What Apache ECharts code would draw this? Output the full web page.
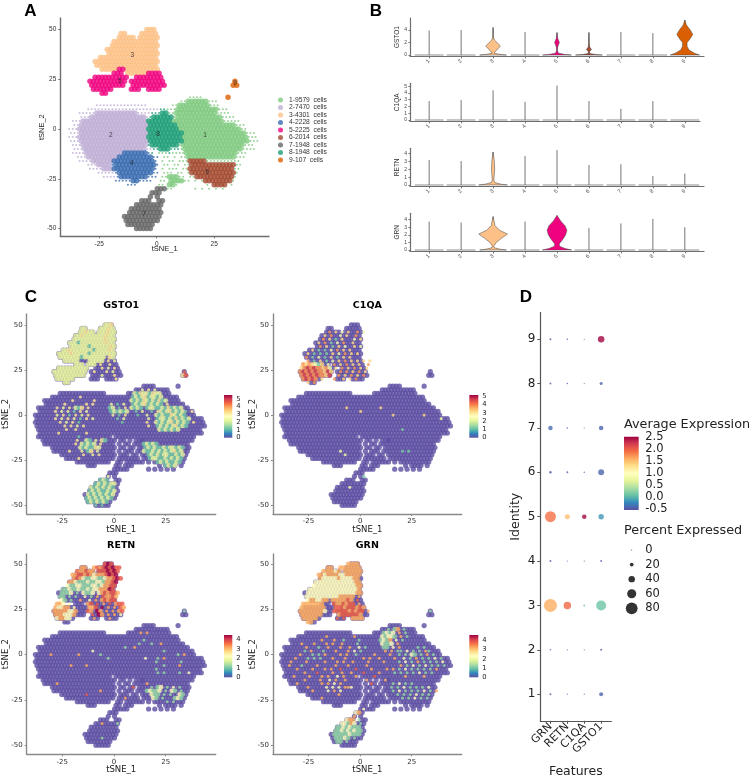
<!DOCTYPE html>
<html>
<head>
<meta charset="utf-8">
<style>html,body{margin:0;background:#fff}#chart{width:753px;height:778px}</style>
<script src="https://cdn.jsdelivr.net/npm/echarts@6/dist/echarts.min.js"></script>
</head>
<body>
<div id="chart"></div>
<script>
// clusterRows: digit = dense cluster cell, letter a-i = sparse halo of cluster 1-9
const clusterRows = [
  "50|22:333", "48|15:33 21:33333", "46|14:33333 20:333333", "44|13:3333333333333",
  "42|12:33333333333333", "40|11:333333333333333", "38|11:333333333333333",
  "36|9:33333333333333333", "34|7:3333333333333333333", "32|8:333333333333333333",
  "30|9:33333 14:55 16:3333333333", "28|13:555 17:333333 23:5555",
  "26|7:5555555555 19:55555555", "24|6:55555555555 18:5555555555 48:9",
  "22|6:5555555555 18:5555555555 47:99", "20|7:555555 18:555 23:5555", "18|9:55",
  "16|35:aaaa 46:9", "14|32:aa111111aaa", "12|8:bbbbbbbbbbbbbbb 30:aa111111111aaa",
  "10|5:bbbbbbbbbbbbbbbbbbbbb 26:hh 28:aaa111111111111aaa",
  "8|3:bbbbb 8:222222222222 20:bbbb 24:hhh88aa 31:111111111111 43:aaaa",
  "6|3:bbb 6:2222222222222222 22:bh 24:888888 30:a 31:1111111111111 44:aaaa",
  "4|1:bbb 4:2222222222222222222 23:8888888 30:111111111111111 45:aaaaa",
  "2|1:bb 3:22222222222222222222 23:88888888 31:11111111111111111 48:aaa",
  "0|0:bbb 3:22222222222222222222 23:888888888 32:111111111111111111 50:aa",
  "-2|0:bbb 3:22222222222222222222 23:8888888888 33:111111111111111111 51:aaa",
  "-4|0:bbb 3:22222222222222222222 23:8888888888 33:1111111111111111111 52:aaa",
  "-6|0:bbb 3:22222222222222222222 23:8888888888 33:1111111111111111111 52:aaa",
  "-8|1:bbb 4:2222222222222222222 23:h 24:88888888 32:a 33:111111111111111111 51:aaa",
  "-10|1:bbb 4:222222222222222222 22:bbhh888hhha 33:11111111111111111 50:aaaa",
  "-12|1:bbbb 5:22222222222 16:4444444 23:dh 26:aaa 29:haaa 33:a 34:111111111111111 49:aaa",
  "-14|2:bbb 5:222222222 14:4444444444 24:dd 27:aa.a.aaa 34:11111111111111 48:aaa",
  "-16|3:bbbb 7:222222 13:444444444444 25:d 27:a.aa.aaa 35:66666 40:aaaaaaaaaa",
  "-18|5:bbb 8:2222 12:d 13:444444444444 25:d 27:aa.aa.aa 35:6666666666666 48:aa",
  "-20|6:bbbb 10:222 13:444444444444 25:d 27:a.aaa.aa 35:6666666666666 48:aa",
  "-22|8:bbbbb 13:d 14:4444444444 24:dd 27:aaa.aa.a 35:6666666666666 48:a",
  "-24|10:bbbb 14:d 15:44444444 23:ddd 27:aa111aa.aa 37:66666666666 48:a",
  "-26|13:ddddd 18:44 20:dddd 26:aa.1111aa 36:a.a 39:66666666 47:a",
  "-28|17:ddd 26:aa.11a 40:a.6666.a", "-30|25:777aa 36:a.a.a.a.a", "-32|24:777", "-34|23:7.7",
  "-36|21:777 26:77", "-38|19:77777777", "-40|18:777777777", "-42|17:7777777777",
  "-44|16:77777777777", "-46|16:7777777777", "-48|17:77777777", "-50|19:77777"
];
// expression rasters on the same grid: digit = level band of the gene, cells not listed stay purple
const gsto1Rows = [
  "50|22:223", "48|15:22 21:22232", "46|14:22322 20:222322", "44|13:2232222222322",
  "42|12:22222222223222", "40|11:222122222222322", "38|11:222222122222232",
  "36|9:22322222221222232", "34|7:2222322222122222222", "32|8:222222212222222.32",
  "30|9:22222 17:22222.3.2", "28|13:222 17:222.3. 23:.3", "26|7:2222222222 19:..3.2.3",
  "24|6:22222222222 18:.3...3.2 48:5", "22|6:2222222222 18:...2...3 47:35", "20|7:222222 23:...3", "18|9:22",
  "14|34:2.3.2", "12|32:213221322", "10|14:3 31:1212312212", "8|12:3 19:3 31:212132121312",
  "6|9:3 16:3.3 24:2.1.2 31:1212312121.3", "4|7:3.2.3.213.3 24:12.1.3 31:2121.1221 40:12131212",
  "2|6:3.2.2.1.3.2 24:121212 32:1.2..1.3 40:21231212 48:1.3",
  "0|7:2.3.1.3.2.3 25:2.1.3 33:1..2 39:2121132121", "-2|6:3.2.3.2.1.3.2 26:1.2 36:2 39:12212131212",
  "-4|8:3.2.3.1 28:1 36:3 39:21212312121 51:3", "-6|9:3.3.2.3 36:3 39:1212123121",
  "-8|10:3..3 40:2121212", "-10|7:3 16:3", "-12|14:1", "-14|13:3..21.2.31", "-16|13:3.21212.3 35:12121",
  "-18|14:2121132 35:1212112122121", "-20|11:3 15:2.13.2 35:2112121212312", "-22|15:3..2.3 36:121212211212",
  "-24|14:3 37:12211212121", "-26|39:12121121", "-28|42:1212", "-34|23:2", "-36|21:121",
  "-38|19:1212122", "-40|18:21212121", "-42|17:121211212", "-44|17:212121212", "-46|16:121212121",
  "-48|17:1212121", "-50|19:1.1"
];
const c1qaRows = [
  "46|15:4.3.2.3..4.2", "44|14:3.4..2.3..4", "42|13:4.3.1.3...2.3", "40|12:3.4.1.2.4..3",
  "38|12:4.3.1.3.2..3.2", "36|10:3.1.1.2.4.3.3", "34|8:3.1.1.1.3.2.4.3.3", "32|8:4.1.2.1.3.1.3.3",
  "30|8:4.1.3.1.2.3.4.3.3.3.3", "28|7:4343213.2.4.3.4.3.3..4", "26|6:3454544342.3.4.3.4.3.3",
  "24|6:45454544353..4.4.3.4.3", "22|6:4545454435..4.3.4.3.4", "20|7:45454.3...4..3.3.4", "18|8:3.4",
  "4|21:3 32:3", "2|25:3", "0|36:3 46:3", "-2|51:2", "-8|39:1", "-20|19:2 39:1.1", "-22|20:2",
  "-34|26:1", "-40|22:2"
];
const retnRows = [
  "50|21:.454", "48|15:33 19:343454544", "46|13:433433 20:4445454", "44|12:334434323334545",
  "42|12:3432112211233454", "40|11:3321112112213345", "38|10:2112211122123344", "36|9:11211211212233354",
  "34|8:1112.1.2112.2343443", "32|8:11.1.1..2.1.3.43343", "30|8:21.1..3..2.3.34344",
  "28|7:332.2 17:34.4.3.4.344", "26|6:32233.2 17:334.5.3.3.43", "24|6:33333223 17:43.53.3.3.34 48:1",
  "22|6:3332223 18:4.53.3.3.2", "20|7:23322 19:3 24:3", "12|34:3.3", "8|35:1", "6|33:1 37:1 40:3",
  "4|29:1 32:3", "2|18:2 41:1", "0|5:3 14:3 21:1 46:1 48:3", "-2|23:1 35:2 39:1 41:3", "-4|39:1 47:1",
  "-6|11:3 16:3 41:1 46:3", "-8|39:1", "-10|39:1 41:1 46:1 49:2", "-16|7:3 36:3", "-18|31:4 37:1.12.1.2.1",
  "-20|21:3 36:12112.1.21.1", "-22|16:4 37:211.1.1..21", "-24|29:3 38:21.1...121", "-26|42:1.1",
  "-38|21:3 26:1", "-46|21:1"
];
const grnRows = [
  "50|21:3333", "48|15:33 19:3333333", "46|13:333323 20:333333", "44|12:33233332233333",
  "42|12:3222223222233", "40|11:222222222222233", "38|10:2222222222222233", "36|9:22222222222222223",
  "34|8:222222222222222233", "32|8:2222222222233333.3", "30|8:2332233 16:3333343.4",
  "28|7:3333333 17:4334344.3", "26|6:33333333 17:4443444343", "24|6:333333332 17:4444434344.3 48:1",
  "22|6:3333333 18:34444443", "20|7:33333 18:4.4 23:3333", "18|8:33", "14|34:1.13.1", "12|33:1212.3.1",
  "10|14:3 23:3 32:21221.3.1", "8|13:3 17:3 20:1 25:1 32:1213.2.1", "6|6:3 10:3 14:3.3 19:3 24:1 32:2112.3",
  "4|8:3 12:1 15:3 19:3 22:3 25:2.1 33:11.2.3 44:1.1", "2|7:1.3 13:1 17:3 21:3.2 25:1 33:3.3.1 38:1.2.1.1.3 47:1",
  "0|6:3 10:1.1 14:3 19:3.3 24:1 30:3 35:3 38:1.1.21.1.3.1", "-2|4:3 8:1.1 12:1 16:3 20:3 26:3.3 31:3 36:3 39:2.1.3.1.1.2.1",
  "-4|3:3 8:3 14:3 18:3.3 23:3 28:3 33:3 38:1.2.1.3.1.1.1.2", "-6|2:3 6:1 11:3 17:3 21:3 27:3 38:3.1.2.1.2.1.1.1",
  "-8|5:3 10:3 14:3.3 19:4 24:4 29:3 34:3.3.1.2.1.1.1.1.3", "-10|7:3 11:4 16:3 19:3 22:3 26:4 31:3 36:1.1.1.1.2.1.1",
  "-12|4:3 9:3 13:3.3 18:2.3 24:3 30:4 40:3 46:3", "-14|7:3 12:3 15:2.3 20:3 27:3 33:3", "-16|5:3 13:3.3.2.3 29:4 36:1.2.1.1",
  "-18|8:3 14:2.2.2.3.2 21:3 35:1.1.2.1.1.1.2", "-20|10:3 15:2.3 19:2 36:1.2.1.1.1.2.1.3", "-22|18:3 37:1.1.1.2.1.1",
  "-24|13:3 39:1.1.2.1.1", "-30|26:2", "-32|24:23", "-34|23:3", "-36|21:233 25:1", "-38|19:22132 25:1",
  "-40|18:11212111", "-42|17:112121211", "-44|17:111112111", "-46|16:.11121.1", "-48|18:11.1"
];
// expression drawn for each band digit
const levelValues = { 1: 1.2, 2: 2.3, 3: 3.2, 4: 3.8, 5: 4.6 };

const clusterNames = ["1-9579  cells", "2-7470  cells", "3-4301  cells", "4-2228  cells", "5-2225  cells", "6-2014  cells", "7-1948  cells", "8-1948  cells", "9-107  cells"];
const clusterColors = ["#7fc97f", "#beaed4", "#fdc086", "#386cb0", "#f0027f", "#a34a30", "#666666", "#1b9e77", "#d95f02"];
const clusterLabelX = [21, -20, -10.6, -10.9, -16, 22, -5.5, 0.6, 34];
const clusterLabelY = [-3, -3, 37, -17.4, 24, -21.8, -42.7, -2.5, 23];

// violin panel: top of every stem per cluster, and outlines as [expression, half width]
const violinClusters = [1, 2, 3, 4, 5, 6, 7, 8, 9];
const gsto1Stems = [3.9, 4.0, 4.4, 3.7, 3.6, 3.6, 3.7, 3.5, 5.6];
const c1qaStems = [2.8, 2.95, 4.4, 2.7, 5.1, 2.8, 1.65, 2.8, 0];
const retnStems = [3.2, 3.05, 4.2, 3.7, 4.45, 2.55, 2.65, 1.15, 1.45];
const grnStems = [3.75, 3.6, 4.4, 3.75, 4.55, 2.9, 3.5, 4.1, 3.0];
const gsto1Violins = {
  3: [[0, .42], [.12, .2], [.3, .03], [.5, .06], [1.45, .23], [2.4, .04], [2.9, .01], [4.4, 0]],
  5: [[0, .45], [.1, .25], [.3, .05], [.7, .01], [1.3, .02], [2, .075], [2.7, .02], [3.6, 0]],
  6: [[0, .42], [.08, .2], [.25, .02], [.55, .02], [.9, .08], [1.3, .02], [2, .005], [3.6, 0]],
  9: [[0, .46], [.3, .3], [.8, .13], [1.4, .07], [2, .07], [2.5, .15], [3.3, .25], [4, .17], [4.8, .05], [5.6, 0]]
};
const retnViolins = {
  3: [[0, .45], [.1, .25], [.3, .06], [.6, .025], [2, .05], [3, .04], [4.2, 0]]
};
const grnViolins = {
  3: [[0, .42], [.12, .2], [.3, .04], [.5, .02], [1, .1], [1.5, .25], [2.1, .45], [2.6, .2], [3.2, .06], [4.4, 0]],
  5: [[0, .46], [.2, .25], [.5, .08], [.8, .07], [1.5, .2], [2, .27], [2.6, .31], [3.2, .25], [3.8, .12], [4.55, 0]]
};

// dot plot, clusters 1..9 per feature
const dotFeatures = ["GRN", "RETN", "C1QA", "GSTO1"];
const dotPercent = [
  [7, 4, 89, 7, 74, 11, 26, 7, 7],
  [1, 1, 48, 1, 30, 7, 4, 4, 4],
  [1, 1, 7, 1, 26, 4, 1, 1, 1],
  [22, 7, 67, 7, 33, 37, 26, 15, 41]
];
const dotAverage = [
  [-0.48, -0.5, 1.6, -0.48, 1.9, -0.45, -0.38, -0.48, -0.48],
  [-0.5, -0.5, 1.95, -0.5, 1.5, -0.48, -0.5, -0.5, -0.5],
  [-0.5, -0.5, 0.1, -0.5, 2.5, -0.5, -0.5, -0.5, -0.5],
  [-0.42, -0.48, 0.1, -0.45, -0.15, -0.42, -0.42, -0.42, 2.5]
];
const percentLegend = [0, 20, 40, 60, 80];
const averageTicks = [-0.5, 0, 0.5, 1, 1.5, 2, 2.5];

const spectral = ["#5e4fa2", "#3288bd", "#66c2a5", "#abdda4", "#e6f598", "#ffffbf", "#fee08b", "#fdae61", "#f46d43", "#d53e4f", "#9e0142"];

function parseRows(rows) {
  const cells = [];
  rows.forEach((row) => {
    const [y, segments] = row.split("|");
    segments.split(" ").forEach((segment) => {
      const [col, chars] = segment.split(":");
      [...chars].forEach((ch, i) => {
        if (ch === ".") return;
        const shift = (Math.abs(+y) / 2) % 2 ? 0.75 : 0;
        const solid = (chars[i - 1] && chars[i - 1] !== ".") || (chars[i + 1] && chars[i + 1] !== ".");
        cells.push({ x: -38 + (+col + i) * 1.5 + shift, y: +y, ch, solid: solid ? 1 : 0 });
      });
    });
  });
  return cells;
}
const clusterCells = parseRows(clusterRows);

const grids = [];
const xAxes = [];
const yAxes = [];
const series = [];
const visualMaps = [];
const titles = [];

function addGrid(rect, xAxis, yAxis) {
  grids.push({ ...rect, outerBoundsMode: "none" });
  xAxes.push({ gridIndex: grids.length - 1, nameMoveOverlap: false, ...xAxis });
  yAxes.push({ gridIndex: grids.length - 1, nameMoveOverlap: false, ...yAxis });
  return grids.length - 1;
}

function tsneAxes(font, size, nameSize, lineColor, nameGapX, nameGapY, range) {
  const line = { lineStyle: { color: lineColor, width: 1.4 } };
  return [
    { type: "value", min: range[0], max: range[1], name: "tSNE_1", nameLocation: "middle", nameGap: nameGapX,
      nameTextStyle: { fontFamily: font, fontSize: nameSize, color: "#222" }, splitLine: { show: false }, axisLine: { onZero: false, ...line },
      axisTick: { customValues: [-25, 0, 25], length: 2, lineStyle: { color: lineColor } },
      axisLabel: { customValues: [-25, 0, 25], fontFamily: font, fontSize: size, color: "#333", margin: 4 } },
    { type: "value", min: range[2], max: range[3], name: "tSNE_2", nameLocation: "middle", nameGap: nameGapY,
      nameTextStyle: { fontFamily: font, fontSize: nameSize, color: "#222" }, splitLine: { show: false }, axisLine: { onZero: false, ...line },
      axisTick: { customValues: [-50, -25, 0, 25, 50], length: 2, lineStyle: { color: lineColor } },
      axisLabel: { customValues: [-50, -25, 0, 25, 50], fontFamily: font, fontSize: size, color: "#333", margin: 4 } }
  ];
}

function addTitle(text, left, top, size, font) {
  titles.push({ text, left, top, textAlign: "center", padding: 0, textStyle: { fontFamily: font, fontSize: size, fontWeight: "bold", color: "#000" } });
}

// panel A
const [aX, aY] = tsneAxes("Liberation Sans", 6.5, 7.5, "#6e6e6e", 9, 14, [-41.9, 48.8, -53.9, 55.8]);
const gridA = addGrid({ left: 60.3, top: 18, width: 208.7, height: 218.3 }, aX, aY);
clusterNames.forEach((name, i) => {
  const dense = String(i + 1);
  const sparse = "abcdefghi"[i];
  const data = clusterCells.filter((c) => c.ch === dense || c.ch === sparse).map((c) => [c.x, c.y, c.ch === dense ? 1 : 0]);
  series.push({
    type: "scatter", name, xAxisIndex: gridA, yAxisIndex: gridA, data, animation: false, silent: true,
    symbolSize: (v) => (v[2] ? 5.5 : 2),
    itemStyle: { color: clusterColors[i] }
  });
});
series.push({
  type: "scatter", name: "labels", xAxisIndex: gridA, yAxisIndex: gridA, symbolSize: 0, animation: false, silent: true,
  data: clusterLabelX.map((x, i) => [x, clusterLabelY[i], i + 1]),
  label: { show: true, position: "inside", formatter: (p) => String(p.value[2]), fontFamily: "Liberation Sans", fontSize: 6.5, color: "#222" }
});

// panel B
function addViolinPanel(name, rect, yMin, yMax, ticks, stems, violins, xMax) {
  const idx = addGrid(rect,
    { type: "value", min: 0.4, max: xMax, splitLine: { show: false },
      axisLine: { onZero: false, lineStyle: { color: "#6e6e6e", width: 1.2 } },
      axisTick: { customValues: violinClusters, length: 2, lineStyle: { color: "#6e6e6e" } },
      axisLabel: { customValues: violinClusters, rotate: 45, fontFamily: "Liberation Sans", fontSize: 5.5, color: "#444", margin: 4 } },
    { type: "value", min: yMin, max: yMax, name, nameLocation: "middle", nameGap: 9,
      nameTextStyle: { fontFamily: "Liberation Sans", fontSize: 6.5, color: "#333" }, splitLine: { show: false },
      axisLine: { onZero: false, lineStyle: { color: "#6e6e6e", width: 1.2 } },
      axisTick: { customValues: ticks, length: 1.5, lineStyle: { color: "#6e6e6e" } },
      axisLabel: { customValues: ticks, showMinLabel: true, showMaxLabel: true, fontFamily: "Liberation Sans", fontSize: 5, color: "#444", margin: 3 } });
  series.push({
    type: "custom", xAxisIndex: idx, yAxisIndex: idx, animation: false, silent: true,
    data: violinClusters.map((c, i) => [c, stems[i]]),
    encode: { x: 0, y: 1 },
    renderItem(params, api) {
      const c = api.value(0);
      const top = api.value(1);
      const children = [];
      const outline = violins[c];
      if (!outline) {
        const l = api.coord([c - 0.45, 0]);
        const r = api.coord([c + 0.45, 0]);
        children.push({ type: "rect", shape: { x: l[0], y: l[1] - 1, width: r[0] - l[0], height: 2 }, style: { fill: "#c6c6c6" } });
      }
      if (top > 0) {
        const a = api.coord([c, 0]);
        const b = api.coord([c, top]);
        children.push({ type: "line", shape: { x1: a[0], y1: a[1], x2: b[0], y2: b[1] }, style: { stroke: "#666", lineWidth: 0.9 } });
      }
      if (outline) {
        const pts = outline.map(([v, w]) => api.coord([c + w, v]))
          .concat(outline.slice().reverse().map(([v, w]) => api.coord([c - w, v])));
        children.push({ type: "polygon", shape: { points: pts }, style: { fill: clusterColors[c - 1], stroke: "#444", lineWidth: 0.5 } });
      }
      return { type: "group", children };
    }
  });
}
addViolinPanel("GSTO1", { left: 410, top: 18, width: 294, height: 38.3 }, -0.2, 5.92, [0, 2, 4], gsto1Stems, gsto1Violins, 9.6);
addViolinPanel("C1QA", { left: 410, top: 83.3, width: 290, height: 38 }, -0.2, 5.44, [0, 1, 2, 3, 4, 5], c1qaStems, {}, 9.475);
addViolinPanel("RETN", { left: 410, top: 148.3, width: 294, height: 38 }, -0.17, 4.68, [0, 1, 2, 3, 4], retnStems, retnViolins, 9.6);
addViolinPanel("GRN", { left: 410, top: 213.3, width: 294, height: 38 }, -0.17, 4.83, [0, 1, 2, 3, 4], grnStems, grnViolins, 9.6);

// panel C
function addColorbar(rect, min, max, ticks, font, fontSize, margin, digits) {
  const idx = addGrid(rect,
    { type: "value", show: false, min: 0, max: 1 },
    { type: "value", min, max, position: "right", splitLine: { show: false }, axisLine: { show: false }, axisTick: { show: false },
      axisLabel: { customValues: ticks, showMinLabel: true, showMaxLabel: true, fontFamily: font, fontSize, color: "#222", margin, formatter: (v) => v.toFixed(digits) } });
  series.push({
    type: "custom", xAxisIndex: idx, yAxisIndex: idx, animation: false, silent: true, data: [[0, 0]],
    renderItem(params) {
      const s = params.coordSys;
      return {
        type: "rect", shape: { x: s.x, y: s.y, width: s.width, height: s.height },
        style: { fill: new echarts.graphic.LinearGradient(0, 0, 0, 1,
          spectral.slice().reverse().map((color, i) => ({ offset: i / 10, color }))) }
      };
    }
  });
}
function addFeaturePanel(name, rows, rect, range, barRect, barMax, barTicks, titleTop) {
  const [x, y] = tsneAxes("DejaVu Sans", 7, 8.5, "#8a8a8a", 11, 16, range);
  const idx = addGrid(rect, x, y);
  series.push({
    type: "scatter", xAxisIndex: idx, yAxisIndex: idx, animation: false, silent: true, symbolSize: 5.2,
    itemStyle: { color: "#5e4fa2" }, data: clusterCells.map((c) => [c.x, c.y])
  });
  visualMaps.push({ show: false, type: "continuous", seriesIndex: series.length, dimension: 2, min: 0, max: barMax, inRange: { color: spectral } });
  series.push({
    type: "scatter", xAxisIndex: idx, yAxisIndex: idx, animation: false, silent: true,
    symbolSize: (v) => (v[3] ? 4.8 : 3.2),
    data: parseRows(rows).map((c) => [c.x, c.y, levelValues[c.ch], c.solid])
  });
  addColorbar(barRect, 0, barMax, barTicks, "DejaVu Sans", 6.8, 4, 0);
  addTitle(name, rect.left + rect.width / 2, titleTop, 9.5, "DejaVu Sans");
}
const featureRangeTop = [-42.2, 49.2, -54.8, 55.96];
const featureRangeBottom = [-42.2, 49.2, -55, 55.5];
addFeaturePanel("GSTO1", gsto1Rows, { left: 26.7, top: 314, width: 189, height: 200 }, featureRangeTop, { left: 224, top: 395, width: 8.3, height: 42.7 }, 5.5, [0, 1, 2, 3, 4, 5], 300.5);
addFeaturePanel("C1QA", c1qaRows, { left: 273, top: 314, width: 188.7, height: 200 }, featureRangeTop, { left: 469.3, top: 395, width: 9, height: 42.7 }, 5.15, [0, 1, 2, 3, 4, 5], 300.5);
addFeaturePanel("RETN", retnRows, { left: 26.7, top: 554, width: 189, height: 200.3 }, featureRangeBottom, { left: 224, top: 635, width: 8.3, height: 42.3 }, 4.5, [0, 1, 2, 3, 4], 540.5);
addFeaturePanel("GRN", grnRows, { left: 273, top: 554, width: 188.7, height: 200.3 }, featureRangeBottom, { left: 469.3, top: 635, width: 9, height: 42.3 }, 4.57, [0, 1, 2, 3, 4], 540.5);

// panel D
const dotPositions = [1, 2, 3, 4];
const dotData = [];
dotFeatures.forEach((f, fi) => {
  violinClusters.forEach((c, ci) => dotData.push([fi + 1, c, dotAverage[fi][ci], dotPercent[fi][ci]]));
});
const gridD = addGrid({ left: 540.3, top: 312.6, width: 71, height: 408.2 },
  { type: "value", min: 0.4, max: 4.6, name: "Features", nameLocation: "middle", nameGap: 44,
    nameTextStyle: { fontFamily: "DejaVu Sans", fontSize: 12.5, color: "#222" }, splitLine: { show: false },
    axisLine: { onZero: false, lineStyle: { color: "#555", width: 1.2 } },
    axisTick: { customValues: dotPositions, length: 3, lineStyle: { color: "#555" } },
    axisLabel: { customValues: dotPositions, rotate: 45, fontFamily: "DejaVu Sans", fontSize: 11, color: "#222", margin: 4, formatter: (v) => dotFeatures[v - 1] } },
  { type: "value", min: 0.4, max: 9.6, name: "Identity", nameLocation: "middle", nameGap: 18,
    nameTextStyle: { fontFamily: "DejaVu Sans", fontSize: 12.5, color: "#222" }, splitLine: { show: false },
    axisLine: { onZero: false, lineStyle: { color: "#555", width: 1.2 } },
    axisTick: { customValues: violinClusters, length: 3, lineStyle: { color: "#555" } },
    axisLabel: { customValues: violinClusters, fontFamily: "DejaVu Sans", fontSize: 12, color: "#222", margin: 5 } });
visualMaps.push({ show: false, type: "continuous", seriesIndex: series.length, dimension: 2, min: -0.53, max: 2.52, inRange: { color: spectral } });
series.push({
  type: "scatter", xAxisIndex: gridD, yAxisIndex: gridD, animation: false, silent: true, data: dotData,
  symbolSize: (v) => 1 + v[3] * 0.135
});
addColorbar({ left: 624, top: 436.7, width: 14.7, height: 73.3 }, -0.53, 2.52, averageTicks, "DejaVu Sans", 11.5, 6.5, 1);

const sizeGrid = addGrid({ left: 624.7, top: 550, width: 14, height: 58.3 },
  { type: "value", show: false, min: 0, max: 1 },
  { type: "value", min: 0, max: 80, inverse: true, position: "right", splitLine: { show: false }, axisLine: { show: false }, axisTick: { show: false },
    axisLabel: { customValues: percentLegend, fontFamily: "DejaVu Sans", fontSize: 11.5, color: "#222", margin: 6.5 } });
series.push({
  type: "scatter", xAxisIndex: sizeGrid, yAxisIndex: sizeGrid, animation: false, silent: true, clip: false,
  data: percentLegend.map((p) => [0.5, p]), symbolSize: (v) => 1 + v[1] * 0.135, itemStyle: { color: "#000" }
});

addTitle("A", 30.5, 3, 17, "Liberation Sans");
addTitle("B", 376, 3, 17, "Liberation Sans");
addTitle("C", 31, 289, 17, "Liberation Sans");
addTitle("D", 526, 289, 17, "Liberation Sans");

const chart = echarts.init(document.getElementById("chart"), null, { renderer: "canvas" });
chart.setOption({
  animation: false,
  backgroundColor: "#fff",
  title: titles,
  grid: grids,
  xAxis: xAxes,
  yAxis: yAxes,
  visualMap: visualMaps,
  legend: {
    data: clusterNames, orient: "vertical", left: 278, top: 96.5, itemWidth: 5, itemHeight: 5, itemGap: 0.5, icon: "circle",
    selectedMode: false, padding: 0, textStyle: { fontFamily: "Liberation Sans", fontSize: 6.7, color: "#333", padding: [0, 0, 0, 1] }
  },
  series,
  graphic: [
    { type: "text", left: 624, top: 418, style: { text: "Average Expression", fontFamily: "DejaVu Sans", fontSize: 12.8, fill: "#222" } },
    { type: "text", left: 624, top: 524, style: { text: "Percent Expressed", fontFamily: "DejaVu Sans", fontSize: 12.8, fill: "#222" } }
  ]
});
</script>
</body>
</html>
